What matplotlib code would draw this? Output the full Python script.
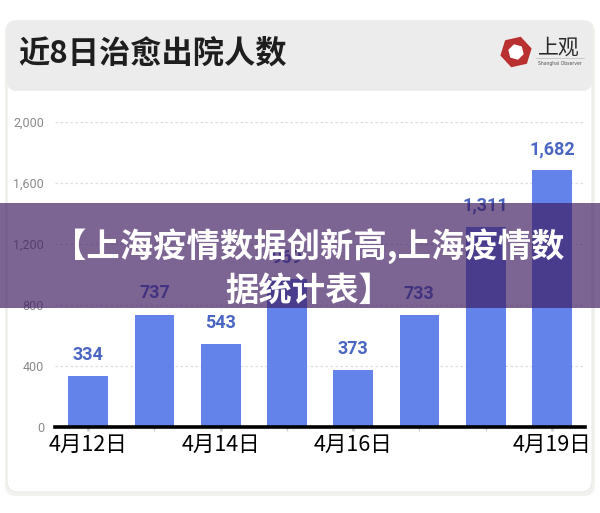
import matplotlib
matplotlib.use('Agg')
import matplotlib.pyplot as plt
from matplotlib.patches import FancyBboxPatch, Rectangle, RegularPolygon

plt.rcParams['font.family'] = ['Noto Sans CJK SC', 'DejaVu Sans']

# data
dates = ['4月12日', '4月13日', '4月14日', '4月15日', '4月16日', '4月17日', '4月18日', '4月19日']
values = [334, 737, 543, 969, 373, 733, 1311, 1682]
shown_ticks = [0, 2, 4, 7]
y_ticks = [0, 400, 800, 1200, 1600, 2000]

title = '近8日治愈出院人数'
banner_1 = '【上海疫情数据创新高,上海疫情数'
banner_2 = '据统计表】'

W, H = 600, 513
fig = plt.figure(figsize=(W / 100, H / 100), dpi=100)
fig.patch.set_facecolor('white')

# background layer in pixel coords
bg = fig.add_axes([0, 0, 1, 1], zorder=0)
bg.set_xlim(0, W)
bg.set_ylim(H, 0)
bg.axis('off')

# card + soft shadow
bg.add_patch(FancyBboxPatch((5, 20), 590, 476, boxstyle='round,pad=0,rounding_size=12',
                            fc='#f1f1ee', ec='none'))
bg.add_patch(FancyBboxPatch((7, 21), 585, 471, boxstyle='round,pad=0,rounding_size=11',
                            fc='white', ec='#ebebe8', lw=0.8))
bg.add_patch(FancyBboxPatch((7, 21), 585, 70, boxstyle='round,pad=0,rounding_size=10',
                            fc='#ececec', ec='none'))
bg.text(18, 54, title, fontsize=22.5, fontweight='bold', color='#1e1e1e', va='center', ha='left')

# logo
bg.add_patch(RegularPolygon((516, 52), 6, radius=16, orientation=0.3, fc='#b8302f', ec='none'))
bg.add_patch(RegularPolygon((516, 52), 6, radius=8, orientation=0.8, fc='white', ec='none'))
bg.text(559, 48, '上观', fontsize=15, fontweight='light', color='#2a2a2a', va='center', ha='center')
bg.plot([536, 584], [58, 58], color='#bbbbbb', lw=0.5)
bg.text(560, 64, 'Shanghai Observer', fontsize=3.3, color='#555555', va='center', ha='center',
        family='DejaVu Sans')

# chart
ax = fig.add_axes([55 / W, (H - 427) / H, 530 / W, 305 / H], zorder=1)
ax.patch.set_alpha(0)
x = list(range(len(values)))
bars = ax.bar(x, values, width=0.6, color='#6383ea', zorder=2)
for xi, v in zip(x, values):
    ax.annotate(f'{v:,}', (xi, v), xytext=(0, 9), textcoords='offset points',
                ha='center', va='bottom', fontsize=13, fontweight='bold',
                color='#4a66c2', family=['Roboto', 'DejaVu Sans'])

ax.set_xlim(-0.5, len(values) - 0.5)
ax.set_ylim(0, 2000)
ax.set_yticks(y_ticks)
ax.set_yticklabels([f'{t:,}' for t in y_ticks], fontsize=9, color='#8a8a8a',
                   family=['Roboto', 'DejaVu Sans'])
ax.tick_params(axis='y', length=0, pad=8)
for t in y_ticks[1:]:
    ax.axhline(t, color='#dddddd', lw=0.9, ls=(0, (2, 2)), zorder=1)

ax.set_xticks(x)
ax.set_xticklabels([d if i in shown_ticks else '' for i, d in enumerate(dates)],
                   fontsize=15.5, color='black')
ax.tick_params(axis='x', length=3, width=1, color='#cccccc', pad=2)
for i, tk in enumerate(ax.xaxis.get_major_ticks()):
    if i in shown_ticks:
        tk.tick1line.set_color('black')
        tk.tick1line.set_markeredgewidth(2)

for s in ['top', 'right', 'left']:
    ax.spines[s].set_visible(False)
ax.spines['bottom'].set_linewidth(2.6)
ax.spines['bottom'].set_color('black')

# purple banner overlay
top = fig.add_axes([0, 0, 1, 1], zorder=5)
top.set_xlim(0, W)
top.set_ylim(H, 0)
top.axis('off')
top.patch.set_alpha(0)
top.add_patch(Rectangle((0, 203), W, 105, fc=(62 / 255, 26 / 255, 95 / 255), alpha=0.67, ec='none'))
top.text(309, 247, banner_1, fontsize=24, fontweight='heavy', color='white', ha='center', va='center')
top.text(309, 291, banner_2, fontsize=24, fontweight='heavy', color='white', ha='center', va='center')

fig.savefig('out.png', dpi=100, facecolor='white')
